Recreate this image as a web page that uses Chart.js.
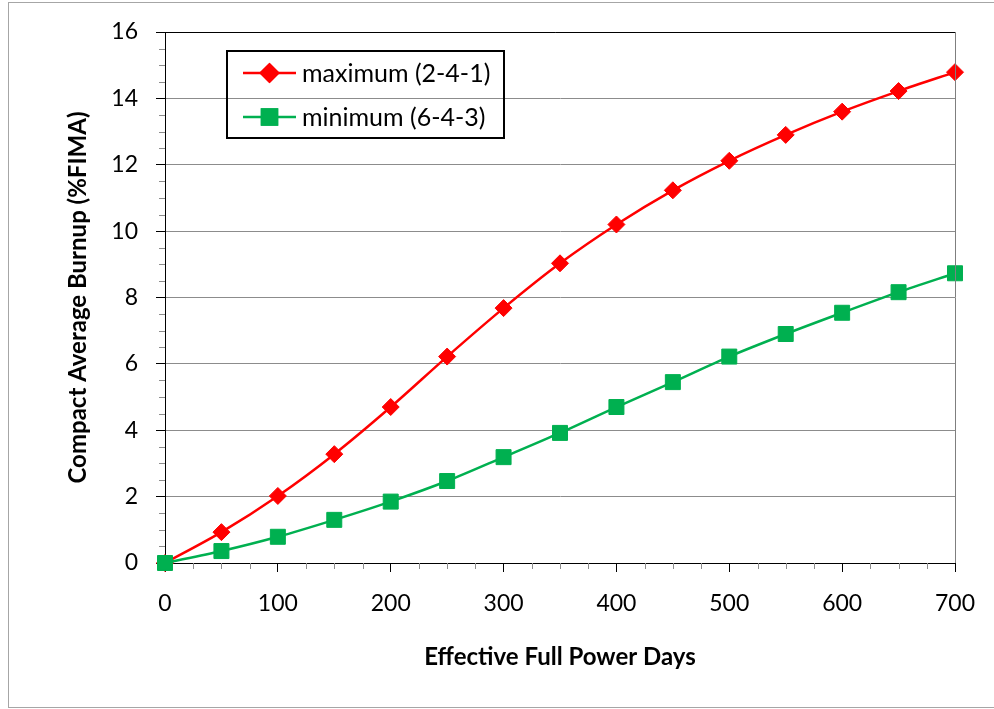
<!DOCTYPE html>
<html>
<head>
<meta charset="utf-8">
<script src="https://cdn.jsdelivr.net/npm/chart.js@4/dist/chart.umd.min.js"></script>
<style>
  html, body { margin: 0; padding: 0; background: #fff; }
  #wrap { width: 994px; height: 709px; }
</style>
</head>
<body>
<div id="wrap"><canvas id="burnupChart" width="994" height="709"></canvas></div>
<script>
// effective full power days
const days = [0, 50, 100, 150, 200, 250, 300, 350, 400, 450, 500, 550, 600, 650, 700];
// compact average burnup (%FIMA)
const maxBurnup = [0, 0.93, 2.02, 3.28, 4.70, 6.22, 7.68, 9.03, 10.2, 11.23, 12.12, 12.9, 13.6, 14.22, 14.79];
const minBurnup = [0, 0.36, 0.79, 1.3, 1.85, 2.47, 3.19, 3.92, 4.70, 5.45, 6.22, 6.9, 7.54, 8.16, 8.73];
const seriesNames = ["maximum (2-4-1)", "minimum (6-4-3)"];

const FONT = "Lato, 'Liberation Sans', sans-serif";

// minor ticks, plot frame, outer border and the legend box
const decorations = {
  id: "decorations",
  beforeDraw(chart) {
    const ctx = chart.ctx;
    ctx.save();
    ctx.strokeStyle = "#a6a6a6";
    ctx.lineWidth = 1;
    ctx.strokeRect(8.5, 2.5, 1000, 705);
    ctx.restore();
  },
  afterDraw(chart) {
    const ctx = chart.ctx;
    const area = chart.chartArea;
    const xs = chart.scales.x, ys = chart.scales.y;
    ctx.save();
    ctx.lineWidth = 1;

    // minor ticks
    ctx.strokeStyle = "#8c8c8c";
    ctx.beginPath();
    for (let v = 0.5; v < 16; v += 0.5) {
      if (v % 2 === 0) continue;
      const py = Math.round(ys.getPixelForValue(v)) + 0.5;
      ctx.moveTo(area.left - 6, py);
      ctx.lineTo(area.left, py);
    }
    for (let d = 25; d < 700; d += 25) {
      if (d % 100 === 0) continue;
      const px = Math.round(xs.getPixelForValue(d)) + 0.5;
      ctx.moveTo(px, area.bottom);
      ctx.lineTo(px, area.bottom + 6);
    }
    ctx.stroke();

    // plot frame
    ctx.strokeStyle = "#7f7f7f";
    ctx.beginPath();
    ctx.moveTo(Math.round(area.right) + 0.5, area.top);
    ctx.lineTo(Math.round(area.right) + 0.5, area.bottom);
    ctx.stroke();
    ctx.strokeStyle = "#000";
    ctx.beginPath();
    ctx.moveTo(area.left - 9, Math.round(area.top) + 0.5);
    ctx.lineTo(area.right, Math.round(area.top) + 0.5);
    ctx.stroke();

    // legend
    const lx = area.left + 62, ly = area.top + 19;
    ctx.strokeStyle = "#000";
    ctx.lineWidth = 2;
    ctx.strokeRect(lx, ly, 277, 87);
    chart.data.datasets.slice().sort((a, b) => a.legendIndex - b.legendIndex).forEach((ds, i) => {
      const cy = ly + 22 + i * 44;
      ctx.strokeStyle = ds.borderColor;
      ctx.lineWidth = 2.5;
      ctx.beginPath();
      ctx.moveTo(lx + 16, cy);
      ctx.lineTo(lx + 69, cy);
      ctx.stroke();
      Chart.helpers.drawPoint(ctx, {
        pointStyle: ds.pointStyle,
        radius: ds.pointRadius,
        borderWidth: 1,
        rotation: 0
      }, lx + 42.5, cy);
      ctx.fillStyle = ds.pointBackgroundColor;
      ctx.strokeStyle = ds.pointBorderColor;
      ctx.fill();
      ctx.stroke();
      ctx.fillStyle = "#000";
      ctx.font = "25px " + FONT;
      ctx.textBaseline = "middle";
      ctx.textAlign = "left";
      ctx.fillText(ds.label, lx + 75, cy + 1);
    });
    ctx.restore();
  }
};

new Chart(document.getElementById("burnupChart"), {
  type: "line",
  data: {
    datasets: [
      {
        label: seriesNames[0],
        legendIndex: 0,
        order: 1,
        clip: false,
        data: days.map((d, i) => ({ x: d, y: maxBurnup[i] })),
        borderColor: "#ff0000",
        borderWidth: 2.5,
        pointStyle: "rectRot",
        pointRadius: 8.5,
        pointBackgroundColor: "#ff0000",
        pointBorderColor: "#ff0000",
        pointBorderWidth: 1,
        tension: 0.3,
        fill: false
      },
      {
        label: seriesNames[1],
        legendIndex: 1,
        order: 0,
        clip: false,
        data: days.map((d, i) => ({ x: d, y: minBurnup[i] })),
        borderColor: "#00b050",
        borderWidth: 2.5,
        pointStyle: "rect",
        pointRadius: 10.6,
        pointBackgroundColor: "#00b050",
        pointBorderColor: "#00b050",
        pointBorderWidth: 1,
        tension: 0.3,
        fill: false
      }
    ]
  },
  options: {
    responsive: false,
    animation: false,
    layout: { padding: { left: 0, top: 32, right: 39, bottom: 0 } },
    plugins: { legend: { display: false }, tooltip: { enabled: false } },
    scales: {
      x: {
        type: "linear",
        min: 0,
        max: 700,
        afterFit: s => { s.height = 146; },
        ticks: { stepSize: 100, color: "#000", padding: 18, font: { family: FONT, size: 23 } },
        grid: { drawOnChartArea: false, drawTicks: true, tickLength: 9, tickColor: "#000" },
        border: { color: "#000", width: 1 },
        title: {
          display: true,
          text: "Effective Full Power Days",
          color: "#000",
          font: { family: FONT, size: 24, weight: "bold" },
          padding: { top: 0, bottom: 37 }
        }
      },
      y: {
        min: 0,
        max: 16,
        afterFit: s => { s.width = 165; },
        ticks: { stepSize: 2, color: "#000", padding: 18, font: { family: FONT, size: 23 } },
        grid: { color: "#8c8c8c", tickLength: 9, tickColor: "#000" },
        border: { color: "#000", width: 1 },
        title: {
          display: true,
          text: "Compact Average Burnup (%FIMA)",
          color: "#000",
          font: { family: FONT, size: 24, weight: "bold" },
          padding: { top: 64, bottom: 0 }
        }
      }
    }
  },
  plugins: [decorations]
});
</script>
</body>
</html>
